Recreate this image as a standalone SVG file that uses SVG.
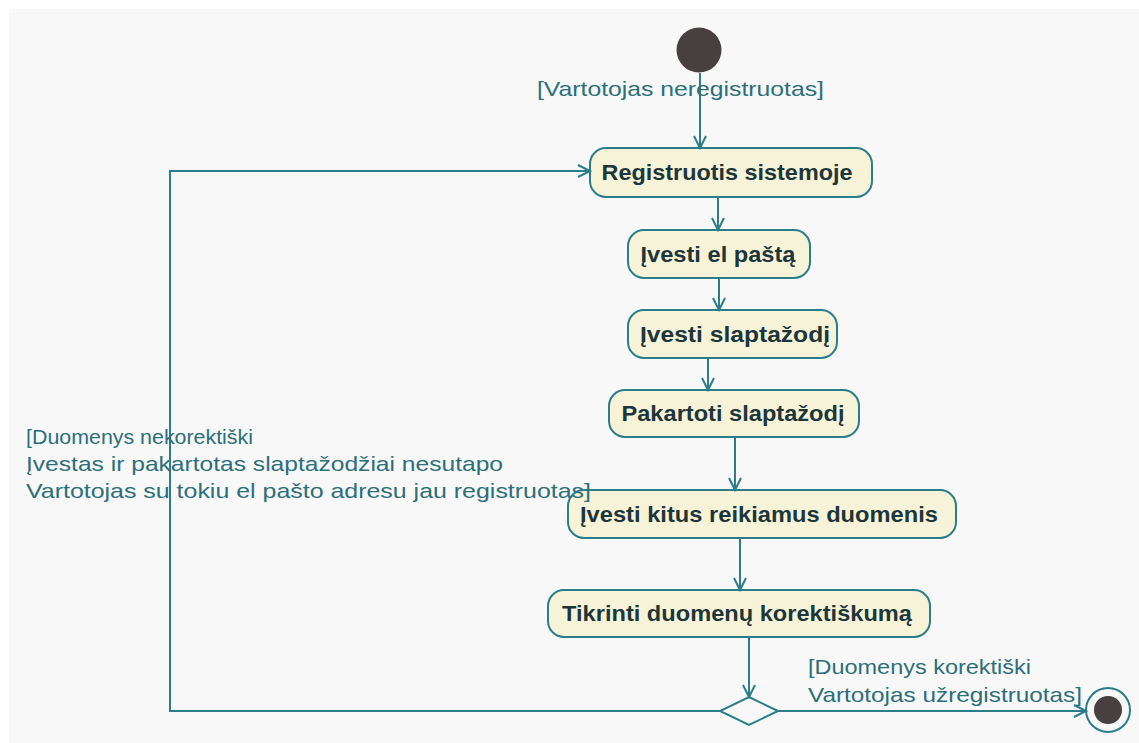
<svg xmlns="http://www.w3.org/2000/svg" width="1139" height="743" viewBox="0 0 1139 743">
  <defs>
    <marker id="arrow" markerUnits="userSpaceOnUse" markerWidth="16" markerHeight="16" refX="13" refY="7" orient="auto">
      <path d="M1,1 L13,7 L1,13" fill="none" stroke="#2b7d89" stroke-width="2"/>
    </marker>
    <style>
      .bg { fill: #f8f8f8; }
      .act rect { fill: #f7f3d8; stroke: #2b7d89; stroke-width: 2; }
      .act text { font-family: "Liberation Sans", Arial, sans-serif; font-weight: bold; font-size: 22px; fill: #1d3639; text-anchor: middle; }
      .guard { font-family: "Liberation Sans", Arial, sans-serif; font-size: 21px; fill: #2c6f7a; }
      .edge { fill: none; stroke: #2b7d89; stroke-width: 2; marker-end: url(#arrow); }
    </style>
  </defs>

  <rect class="bg" x="9" y="9" width="1130" height="734"/>

  <!-- initial and final nodes -->
  <g id="start">
    <circle cx="699" cy="50" r="22.5" fill="#473f40"/>
  </g>
  <g id="end">
    <circle cx="1108" cy="710" r="22" fill="none" stroke="#2b7d89" stroke-width="2"/>
    <circle cx="1108" cy="710" r="14" fill="#473f40"/>
  </g>

  <!-- activities -->
  <g id="registruotis" class="act">
    <rect x="590" y="148" width="282" height="49" rx="16"/>
    <text x="727" y="180" textLength="251" lengthAdjust="spacingAndGlyphs">Registruotis sistemoje</text>
  </g>
  <g id="ivesti-pasta" class="act">
    <rect x="628" y="230" width="182" height="48" rx="16"/>
    <text x="718" y="262" textLength="155" lengthAdjust="spacingAndGlyphs">Įvesti el paštą</text>
  </g>
  <g id="ivesti-slaptazodi" class="act">
    <rect x="628" y="310" width="209" height="48" rx="16"/>
    <text x="735" y="342" textLength="190" lengthAdjust="spacingAndGlyphs">Įvesti slaptažodį</text>
  </g>
  <g id="pakartoti" class="act">
    <rect x="609" y="390" width="250" height="47" rx="16"/>
    <text x="733" y="421" textLength="223" lengthAdjust="spacingAndGlyphs">Pakartoti slaptažodį</text>
  </g>
  <g id="ivesti-kitus" class="act">
    <rect x="568" y="490" width="388" height="48" rx="16"/>
    <text x="759" y="522" textLength="358" lengthAdjust="spacingAndGlyphs">Įvesti kitus reikiamus duomenis</text>
  </g>
  <g id="tikrinti" class="act">
    <rect x="548" y="590" width="382" height="47" rx="16"/>
    <text x="737" y="621" textLength="350" lengthAdjust="spacingAndGlyphs">Tikrinti duomenų korektiškumą</text>
  </g>

  <g id="decision">
    <polygon points="749,697 778,711 749,725 720,711" fill="#f8f8f8" stroke="#2b7d89" stroke-width="2"/>
  </g>

  <!-- control flows -->
  <g id="connectors">
    <path class="edge" d="M700,73 L700,148"/>
    <path class="edge" d="M718,197 L718,230"/>
    <path class="edge" d="M719,278 L719,310"/>
    <path class="edge" d="M708,358 L708,390"/>
    <path class="edge" d="M735,437 L735,490"/>
    <path class="edge" d="M740,538 L740,590"/>
    <path class="edge" d="M749,637 L749,697"/>
    <path class="edge" d="M720,711 L170,711 L170,171 L590,171"/>
    <path class="edge" d="M778,711 L1086,711"/>
  </g>

  <!-- guard labels -->
  <g id="guards">
    <text class="guard" x="537" y="96" textLength="287" lengthAdjust="spacingAndGlyphs">[Vartotojas neregistruotas]</text>
    <text class="guard" x="26" y="444" textLength="227" lengthAdjust="spacingAndGlyphs">[Duomenys nekorektiški</text>
    <text class="guard" x="26" y="471" textLength="477" lengthAdjust="spacingAndGlyphs">Įvestas ir pakartotas slaptažodžiai nesutapo</text>
    <text class="guard" x="26" y="498" textLength="565" lengthAdjust="spacingAndGlyphs">Vartotojas su tokiu el pašto adresu jau registruotas]</text>
    <text class="guard" x="808" y="674" textLength="223" lengthAdjust="spacingAndGlyphs">[Duomenys korektiški</text>
    <text class="guard" x="808" y="702" textLength="274" lengthAdjust="spacingAndGlyphs">Vartotojas užregistruotas]</text>
  </g>
</svg>
